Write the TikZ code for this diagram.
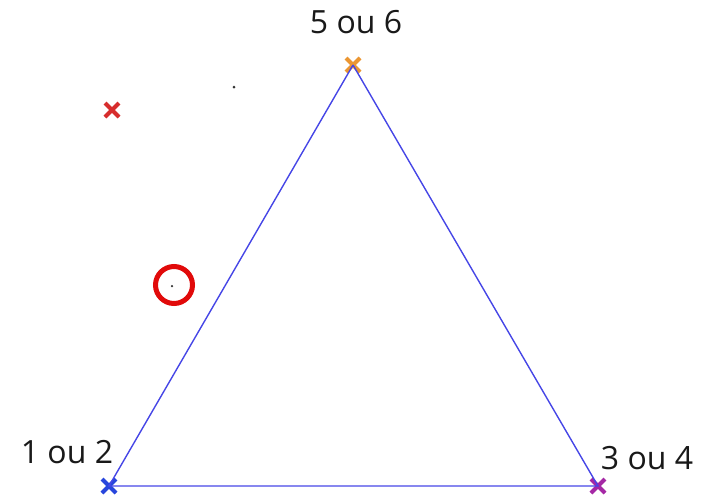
\documentclass[tikz,border=0pt]{standalone}
\usepackage{fontspec}
\setmainfont{Open Sans}
\usetikzlibrary{shapes.misc}
\definecolor{lineblue}{RGB}{70,70,230}
\definecolor{xblue}{RGB}{40,70,220}
\definecolor{xorange}{RGB}{235,150,50}
\definecolor{xpurple}{RGB}{165,40,165}
\definecolor{xred}{RGB}{215,45,45}
\definecolor{ringred}{RGB}{225,10,10}
\begin{document}
\begin{tikzpicture}[x=1pt,y=-1pt,
  cross/.style={cross out,draw=#1,line width=4pt,inner sep=0pt,minimum size=10pt},
  lbl/.style={font=\fontsize{32}{36}\selectfont,text=black!90,inner sep=0pt},
  edge/.style={draw=lineblue,line width=1.4pt},
  dotn/.style={circle,fill=black!80,inner sep=0pt,minimum size=3pt}]
\useasboundingbox (0,0) rectangle (709,496);
\node[cross=xorange] (top) at (353,65) {};
\node[cross=xblue] (bl) at (109,486) {};
\node[cross=xpurple] (br) at (598,486) {};
\node[cross=xred] (rx) at (112,110) {};
\node[dotn] (d1) at (234,87) {};
\node[dotn,minimum size=2.5pt] (d2) at (172,286) {};
\node[circle,draw=ringred,line width=5pt,minimum size=37pt,inner sep=0pt] (ring) at (174,285) {};
\draw[edge] (top.center) -- (bl.center) -- (br.center) -- (top.center);
\node[lbl,anchor=base] (l56) at (356,33) {5 ou 6};
\node[lbl,anchor=base] (l12) at (67,463) {1 ou 2};
\node[lbl,anchor=base] (l34) at (647,469) {3 ou 4};
\end{tikzpicture}
\end{document}
